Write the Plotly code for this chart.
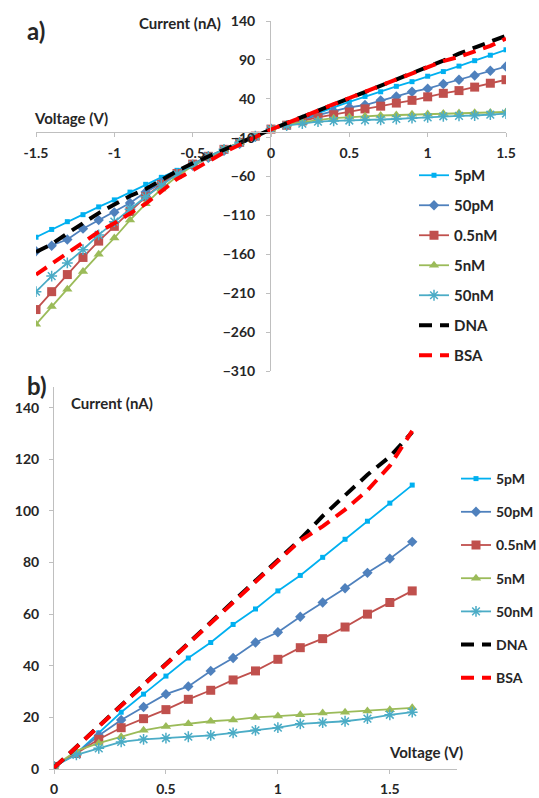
import plotly.graph_objects as go

# ---------------- data ----------------
series_names = ["5pM", "50pM", "0.5nM", "5nM", "50nM", "DNA", "BSA"]

# negative side (-1.5 .. -0.1), panel a
volt_neg = [-1.5, -1.4, -1.3, -1.2, -1.1, -1.0, -0.9, -0.8, -0.7, -0.6, -0.5, -0.4, -0.3, -0.2, -0.1]
neg_5pM = [-138, -128, -118, -109, -99, -90, -80, -70, -61, -52, -43, -34, -26, -17, -8]
neg_50pM = [-156, -149, -141, -127, -116, -106, -94, -80, -68, -57, -46, -36, -27, -18, -9]
neg_05nM = [-231, -208, -186, -164, -143, -124, -105, -86, -70, -56, -44, -34, -25, -16, -8]
neg_5nM = [-250, -227, -205, -182, -160, -139, -116, -95, -76, -60, -46, -35, -25, -16, -8]
neg_50nM = [-208, -188, -171, -154, -135, -118, -102, -86, -71, -57, -45, -34, -25, -16, -8]
neg_DNA = [-157, -147, -133, -120, -107, -96, -85, -76, -64, -53, -43, -34, -25, -16, -8]
neg_BSA = [-186, -172, -158, -144, -131, -120, -107, -95, -79, -63, -52, -40, -29, -19, -9]

# positive side (0 .. 1.6), panel b (panel a uses 0 .. 1.5)
volt_pos = [0.0, 0.1, 0.2, 0.3, 0.4, 0.5, 0.6, 0.7, 0.8, 0.9, 1.0, 1.1, 1.2, 1.3, 1.4, 1.5, 1.6]
pos_5pM = [1, 6, 14, 22, 29, 36, 43, 49, 56, 62, 69, 75, 82, 89, 96, 103, 110]
pos_50pM = [1, 6, 13, 19, 24, 29, 32, 38, 43, 49, 53, 59, 64.5, 70, 76, 81.5, 88]
pos_05nM = [1, 6, 11.5, 16, 19.5, 23, 27, 30.5, 34.5, 38, 42.5, 47, 50.5, 55, 60, 64.5, 69]
pos_5nM = [1, 7, 10, 12.5, 15, 16.5, 17.5, 18.5, 19, 20, 20.5, 21, 21.7, 22, 22.5, 23, 23.7]
pos_50nM = [1, 5.5, 8, 10.5, 11.5, 12, 12.5, 13, 14, 15, 16, 17.5, 18, 18.5, 19.5, 21, 22]
pos_DNA = [0.5, 8.5, 17, 25, 33, 41, 49, 57, 65, 73, 81, 89, 98, 106, 114, 121, 130.5]
pos_BSA = [0.5, 8.5, 17, 25, 33, 41, 49, 57, 65, 73, 81, 88.5, 94, 100.5, 108, 117.5, 131]

ytick_a = [140, 90, 40, -10, -60, -110, -160, -210, -260, -310]
xtick_a = [-1.5, -1, -0.5, 0, 0.5, 1, 1.5]
xtick_a_text = ["-1.5", "-1", "-0.5", "0", "0.5", "1", "1.5"]
ytick_b = [0, 20, 40, 60, 80, 100, 120, 140]
xtick_b = [0, 0.5, 1, 1.5]
xtick_b_text = ["0", "0.5", "1", "1.5"]

# ---------------- styles ----------------
W, H = 539, 798
FONT = "Lato"
TXT = "#262626"
AXC = "#BFBFBF"

styles = {
    "5pM": dict(color="#00B0F0", symbol="square", size=5, width=1.8),
    "50pM": dict(color="#4F81BD", symbol="diamond", size=8, width=1.8),
    "0.5nM": dict(color="#C0504D", symbol="square", size=9, width=1.8),
    "5nM": dict(color="#9BBB59", symbol="triangle-up", size=9, width=1.8),
    "50nM": dict(color="#4BACC6", symbol="asterisk-open", size=9, width=1.8),
    "DNA": dict(color="#000000", dash="13px,8px", width=4),
    "BSA": dict(color="#FF0000", dash="13px,8px", width=4),
}

neg_vals = [neg_5pM, neg_50pM, neg_05nM, neg_5nM, neg_50nM, neg_DNA, neg_BSA]
pos_vals = [pos_5pM, pos_50pM, pos_05nM, pos_5nM, pos_50nM, pos_DNA, pos_BSA]

fig = go.Figure()

def add_trace(name, x, y, xa, ya, legend, grp):
    st = styles[name]
    if "dash" in st:
        fig.add_trace(go.Scatter(
            x=x, y=y, name=name, mode="lines", xaxis=xa, yaxis=ya,
            legend=legend, legendgroup=grp,
            line=dict(color=st["color"], width=st["width"], dash=st["dash"]),
        ))
    else:
        fig.add_trace(go.Scatter(
            x=x, y=y, name=name, mode="lines+markers", xaxis=xa, yaxis=ya,
            legend=legend, legendgroup=grp,
            line=dict(color=st["color"], width=st["width"]),
            marker=dict(symbol=st["symbol"], size=st["size"], color=st["color"],
                        line=dict(color=st["color"], width=1.5 if "asterisk" in st["symbol"] else 0)),
        ))

# panel a
for name, nv, pv in zip(series_names, neg_vals, pos_vals):
    xa_vals = volt_neg + volt_pos[:16]
    ya_vals = nv + pv[:16]
    add_trace(name, xa_vals, ya_vals, "x", "y", "legend", "a_" + name)

# panel b
for name, pv in zip(series_names, pos_vals):
    add_trace(name, volt_pos, pv, "x2", "y2", "legend2", "b_" + name)

def px_x(p):
    return p / W

def px_y(p):
    return 1 - p / H

tickfont = dict(family=FONT, size=14, color=TXT, weight="bold")
legfont = dict(family=FONT, size=15, color=TXT, weight="bold")
legfont2 = dict(family=FONT, size=14, color=TXT, weight="bold")

# panel a axes geometry
xa_dom = [px_x(36), px_x(506)]
ya_dom = [px_y(371), px_y(21)]
y0_a = px_y(132)
x0_a = px_x(270)

# panel b axes geometry
xb_dom = [px_x(54), px_x(457)]
yb_dom = [px_y(769), px_y(387)]

common_axis = dict(showgrid=False, zeroline=False, showline=True, linecolor=AXC,
                   linewidth=1, ticks="outside", tickcolor=AXC, ticklen=4,
                   tickfont=tickfont, fixedrange=True, automargin=False)

fig.update_layout(
    width=W, height=H,
    margin=dict(l=0, r=0, t=0, b=0, autoexpand=False),
    paper_bgcolor="white", plot_bgcolor="white",
    font=dict(family=FONT, color=TXT),
    xaxis=dict(domain=xa_dom, range=[-1.5, 1.5], anchor="free", position=y0_a,
               tickvals=xtick_a, ticktext=xtick_a_text, ticklabelstandoff=4,
               **common_axis),
    yaxis=dict(domain=ya_dom, range=[-310, 140], anchor="free", position=x0_a,
               tickvals=ytick_a, ticklabelstandoff=8, **common_axis),
    xaxis2=dict(domain=xb_dom, range=[0, 1.8], anchor="y2",
                tickvals=xtick_b, ticktext=xtick_b_text, ticklabelstandoff=3,
                **common_axis),
    yaxis2=dict(domain=yb_dom, range=[0, 148], anchor="x2",
                tickvals=ytick_b, ticklabelstandoff=7, **common_axis),
    legend=dict(x=px_x(414), y=px_y(159), xanchor="left", yanchor="top",
                traceorder="grouped", tracegroupgap=7.5,
                font=legfont, bgcolor="rgba(0,0,0,0)", itemwidth=30),
    legend2=dict(x=px_x(456), y=px_y(463), xanchor="left", yanchor="top",
                 traceorder="grouped", tracegroupgap=12,
                 font=legfont2, bgcolor="rgba(0,0,0,0)", itemwidth=30),
    showlegend=True,
)

annos = [
    dict(text="a)", x=px_x(25), y=px_y(30), size=24),
    dict(text="b)", x=px_x(25), y=px_y(386), size=24),
    dict(text="Current (nA)", x=px_x(137), y=px_y(23), size=15),
    dict(text="Current (nA)", x=px_x(69), y=px_y(403), size=15),
    dict(text="Voltage (V)", x=px_x(32), y=px_y(118), size=15),
    dict(text="Voltage (V)", x=px_x(387), y=px_y(752), size=15),
]
for a in annos:
    fig.add_annotation(text=a["text"], x=a["x"], y=a["y"], xref="paper", yref="paper",
                       xanchor="left", yanchor="middle", showarrow=False,
                       font=dict(family=FONT, size=a["size"], color=TXT, weight="bold"))

fig.write_html("out.html")
